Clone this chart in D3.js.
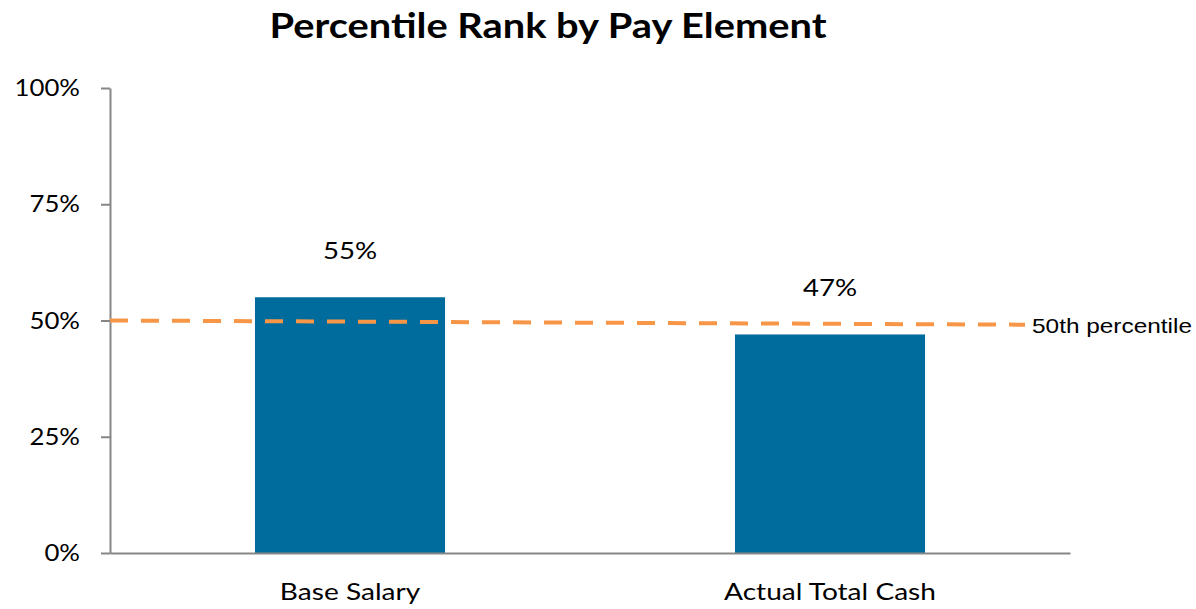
<!DOCTYPE html>
<html><head><meta charset="utf-8">
<script src="https://cdn.jsdelivr.net/npm/d3@7"></script>
<style>html,body{margin:0;padding:0;background:#fff;}svg{display:block;}</style>
</head><body>
<svg id="chart" width="1196" height="609"></svg>
<script>
const categories = ["Base Salary", "Actual Total Cash"];
const values = [55, 47];
const valueLabels = ["55%", "47%"];
const yTicks = [0, 25, 50, 75, 100];
const refLineValues = [50, 49.1];
const refLineLabel = "50th percentile";
const title = "Percentile Rank by Pay Element";

(function () {
const svg = d3.select("#chart");
const mLeft = 110, mRight = 1070, mTop = 88, mBottom = 553;
const x = d3.scaleBand().domain(categories).range([mLeft, mRight]).paddingInner(0.604).paddingOuter(0.302);
const y = d3.scaleLinear().domain([0, 100]).range([mBottom, mTop]);
const font = "Lato, 'Open Sans', sans-serif";
const sx = 1.17;

svg.append("text").attr("transform", `translate(548,38) scale(${sx},1)`).attr("text-anchor", "middle")
  .attr("font-family", font).attr("font-weight", "bold").attr("font-size", 34).attr("fill", "#000")
  .text(title);

// bars
svg.selectAll("rect.bar").data(values).enter().append("rect").attr("class", "bar")
  .attr("x", (d, i) => x(categories[i])).attr("width", x.bandwidth())
  .attr("y", d => y(d)).attr("height", d => y(0) - y(d)).attr("fill", "#006C9E");

// value labels
svg.selectAll("text.val").data(values).enter().append("text").attr("class", "val")
  .attr("transform", (d, i) => `translate(${x(categories[i]) + x.bandwidth() / 2},${y(d) - 38}) scale(1.2,1)`)
  .attr("text-anchor", "middle").attr("font-family", font).attr("font-size", 23).attr("fill", "#000")
  .text((d, i) => valueLabels[i]);

// y axis
const yAxis = d3.axisLeft(y).tickValues(yTicks).tickFormat(d => d + "%").tickSize(9).tickSizeOuter(0);
const ya = svg.append("g").attr("transform", `translate(${mLeft},0)`).call(yAxis);
ya.select(".domain").attr("stroke", "#868686").attr("stroke-width", 2);
ya.selectAll(".tick line").attr("stroke", "#868686").attr("stroke-width", 2);
ya.selectAll(".tick text").attr("font-family", font).attr("font-size", 23).attr("fill", "#000")
  .attr("x", -30 / 1.12).attr("dy", "0.33em").attr("transform", "scale(1.12,1)");

// x axis
const xAxis = d3.axisBottom(x).tickSize(0).tickSizeOuter(0);
const xa = svg.append("g").attr("transform", `translate(0,${mBottom})`).call(xAxis);
xa.select(".domain").attr("stroke", "#868686").attr("stroke-width", 2);
xa.selectAll(".tick text").attr("font-family", font).attr("font-size", 24).attr("fill", "#000")
  .attr("y", 30).attr("dy", "0.71em").attr("transform", `scale(${sx},1)`);

// reference line
const rx = d3.scaleLinear().domain([0, refLineValues.length - 1]).range([mLeft, 1025]);
const line = d3.line().x((d, i) => rx(i)).y(d => y(d));
svg.append("path").datum(refLineValues).attr("d", line).attr("fill", "none")
  .attr("stroke", "#F79646").attr("stroke-width", 4).attr("stroke-dasharray", "18,13");
svg.append("text")
  .attr("transform", `translate(${rx(refLineValues.length - 1) + 7},${y(refLineValues[refLineValues.length - 1]) + 1}) scale(1.22,1)`)
  .attr("dy", "0.35em").attr("font-family", "'Liberation Sans', Arial, sans-serif").attr("font-size", 20).attr("fill", "#000")
  .text(refLineLabel);
})();
</script>
</body></html>
